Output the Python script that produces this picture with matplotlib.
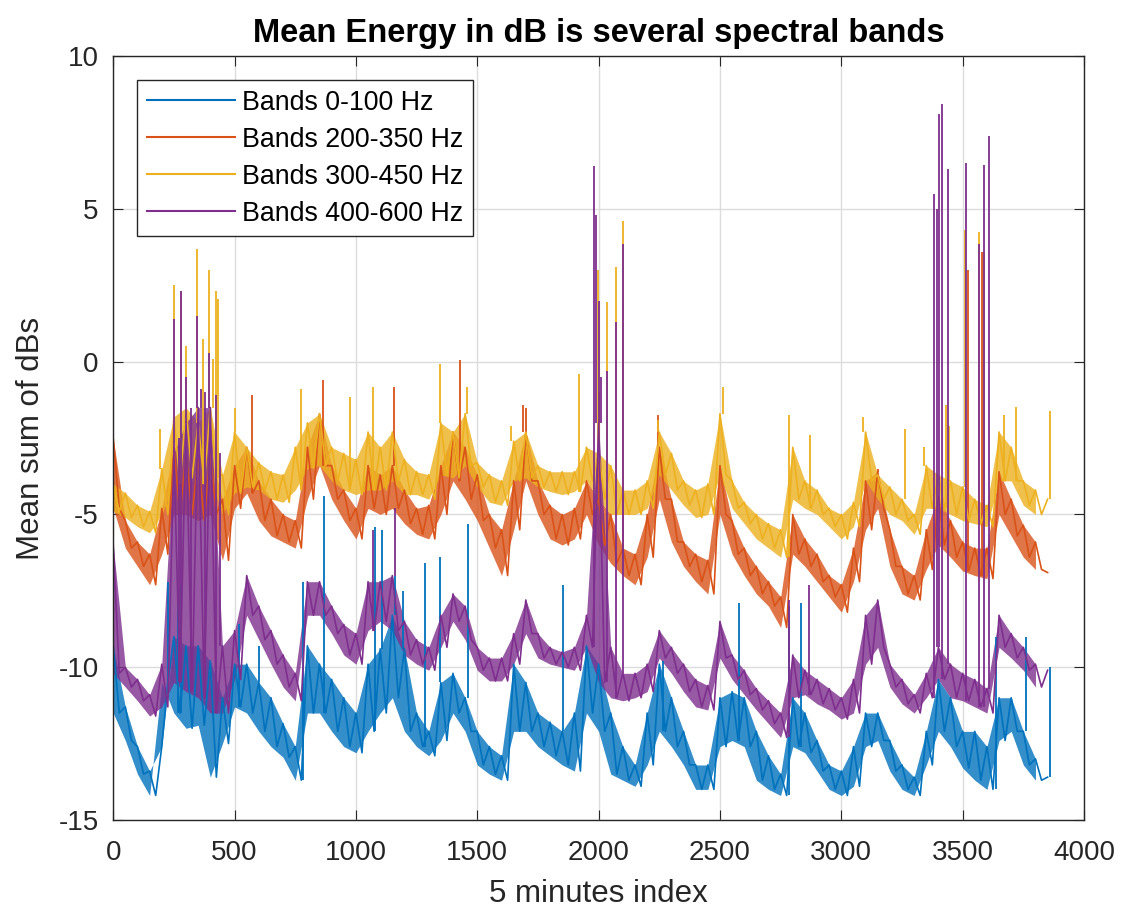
import numpy as np
import matplotlib
matplotlib.use("Agg")
import matplotlib.pyplot as plt

plt.rcParams['font.family'] = ['Liberation Sans', 'DejaVu Sans']
plt.rcParams['axes.unicode_minus'] = False

# values read every 25 samples of the 5 minutes index (alternating upper / lower edge of the trace)
step = 25
band_0_100 = [
    -9.3, -11.5, -11.3, -12.4, -12.6, -13.5, -13.4, -14.2, -12.6, -10.5,
    -9.0, -11.5, -9.3, -12.0, -9.3, -11.9, -9.8, -13.6, -11.0, -12.5,
    -9.9, -11.3, -9.9, -11.5, -10.5, -12.1, -11.0, -12.6, -11.85, -12.95,
    -12.6, -13.7, -9.3, -11.5, -9.9, -11.5, -10.4, -12.1, -11.0, -12.6,
    -11.5, -12.8, -9.9, -12.1, -9.4, -11.5, -8.3, -11.0, -9.4, -12.1,
    -11.5, -12.6, -12.1, -12.9, -10.5, -12.4, -10.2, -11.5, -11.0, -12.1,
    -12.1, -13.2, -12.6, -13.5, -12.9, -13.7, -9.9, -12.1, -10.5, -12.1,
    -11.5, -12.6, -11.8, -12.9, -12.1, -13.2, -11.5, -13.4, -9.3, -11.5,
    -9.9, -12.1, -11.5, -13.5, -12.6, -13.7, -13.2, -13.9, -11.5, -13.2,
    -9.9, -12.1, -11.0, -12.6, -12.1, -13.2, -13.2, -14.0, -13.2, -14.0,
    -11.0, -12.6, -10.8, -12.4, -11.0, -12.6, -12.1, -13.7, -12.9, -14.0,
    -13.5, -14.2, -11.0, -12.6, -11.5, -12.8, -12.4, -13.4, -13.2, -14.0,
    -13.4, -14.2, -12.6, -13.9, -11.5, -12.6, -11.5, -12.4, -12.4, -13.4,
    -13.2, -14.0, -13.6, -14.2, -12.1, -13.2, -10.4, -12.1, -11.0, -12.6,
    -12.1, -13.3, -12.1, -13.7, -12.6, -14.0, -11.0, -12.4, -11.0, -12.1,
    -12.1, -13.2, -13.0, -13.7, -13.6,
]
band_200_350 = [
    -2.5, -4.8, -5.2, -6.1, -5.9, -6.7, -6.3, -7.3, -4.8, -6.3,
    -2.8, -5.0, -3.0, -5.0, -3.2, -5.2, -3.0, -5.0, -4.5, -6.5,
    -3.4, -4.8, -2.8, -4.3, -3.9, -5.2, -4.5, -5.7, -5.0, -5.9,
    -5.2, -6.1, -2.8, -4.5, -1.7, -3.4, -3.4, -4.5, -4.2, -5.2,
    -4.8, -5.8, -3.4, -4.8, -3.7, -5.0, -3.4, -4.8, -4.2, -5.3,
    -4.8, -5.65, -4.7, -5.8, -3.4, -5.0, -2.3, -3.9, -2.8, -4.5,
    -3.7, -5.2, -5.0, -6.1, -5.5, -7.0, -3.9, -5.5, -2.3, -3.9,
    -3.9, -5.0, -4.7, -5.8, -5.0, -6.0, -4.8, -5.8, -3.9, -5.0,
    -4.5, -6.0, -5.0, -6.6, -6.1, -7.0, -6.3, -7.3, -5.0, -6.4,
    -2.8, -4.5, -4.5, -5.9, -5.9, -6.7, -6.3, -7.2, -6.5, -7.6,
    -3.4, -5.0, -5.2, -6.3, -6.1, -7.0, -6.7, -7.6, -7.2, -8.0,
    -7.7, -8.7, -5.0, -6.3, -5.8, -6.7, -6.3, -7.2, -7.0, -7.7,
    -7.3, -8.2, -6.1, -7.2, -3.9, -5.5, -3.6, -4.8, -5.5, -6.7,
    -6.7, -7.6, -7.0, -7.8, -5.5, -6.8, -4.4, -6.0, -5.2, -6.4,
    -5.9, -6.85, -6.1, -7.0, -6.1, -7.1, -3.6, -5.0, -4.5, -5.7,
    -5.35, -6.4, -5.9, -6.8, -6.9,
]
band_300_450 = [
    -4.0, -4.9, -4.3, -5.1, -4.7, -5.4, -4.9, -5.6, -3.5, -5.0,
    -1.8, -4.0, -1.5, -3.8, -2.0, -4.0, -1.5, -3.8, -3.7, -5.0,
    -2.3, -4.3, -2.8, -4.1, -3.3, -4.2, -3.6, -4.5, -3.7, -4.6,
    -2.8, -4.2, -2.0, -3.5, -1.7, -3.4, -2.8, -3.9, -3.0, -4.2,
    -3.2, -4.35, -2.3, -4.2, -2.8, -4.2, -2.3, -3.9, -3.2, -4.35,
    -3.6, -4.35, -3.7, -4.5, -2.0, -3.7, -2.3, -3.8, -1.7, -3.4,
    -3.3, -4.1, -3.7, -4.6, -3.9, -4.7, -2.6, -3.9, -2.3, -3.8,
    -3.4, -4.1, -3.6, -4.25, -3.6, -4.35, -3.6, -4.25, -2.8, -3.9,
    -3.0, -4.5, -3.4, -5.0, -4.2, -5.0, -4.2, -5.0, -3.9, -4.8,
    -2.3, -3.7, -3.0, -4.2, -3.9, -4.7, -4.2, -5.1, -4.0, -5.0,
    -1.7, -3.7, -3.9, -4.8, -4.6, -5.3, -5.0, -5.8, -5.3, -6.1,
    -5.5, -6.4, -2.8, -4.5, -3.9, -4.8, -4.2, -5.0, -4.8, -5.4,
    -5.0, -5.8, -4.6, -5.4, -2.3, -3.9, -3.7, -4.5, -4.1, -5.0,
    -4.5, -5.2, -5.0, -5.65, -3.4, -4.8, -3.7, -4.8, -3.9, -5.0,
    -4.1, -5.2, -4.5, -5.3, -4.7, -5.4, -2.3, -3.9, -2.8, -3.9,
    -3.9, -4.7, -4.2, -5.0, -4.5,
]
band_400_600 = [
    -6.0, -10.2, -10.0, -10.65, -10.4, -11.1, -10.9, -11.6, -9.9, -11.3,
    -3.0, -10.5, -2.0, -10.8, -1.5, -11.0, -1.5, -11.5, -9.3, -11.5,
    -8.8, -10.4, -7.0, -8.3, -8.0, -9.1, -8.8, -9.9, -9.6, -10.65,
    -10.2, -11.1, -7.2, -8.3, -7.2, -8.3, -8.0, -8.9, -8.6, -9.6,
    -8.9, -9.9, -7.2, -8.8, -7.2, -8.5, -7.0, -8.8, -8.5, -9.6,
    -9.1, -9.9, -9.35, -10.1, -8.3, -9.35, -7.6, -8.5, -8.0, -9.1,
    -9.35, -10.1, -9.7, -10.45, -9.7, -10.45, -8.9, -9.9, -7.8, -8.9,
    -8.9, -9.7, -9.35, -9.9, -9.5, -10.0, -9.35, -10.1, -8.3, -9.35,
    -2.0, -10.5, -9.35, -11.0, -10.2, -11.1, -10.2, -11.0, -9.9, -10.8,
    -8.8, -9.7, -9.35, -10.2, -9.9, -10.8, -10.4, -11.3, -10.6, -11.4,
    -8.5, -9.7, -9.6, -10.4, -10.1, -10.9, -10.7, -11.4, -11.1, -11.85,
    -11.5, -12.3, -9.6, -11.0, -10.1, -10.9, -10.4, -11.2, -10.7, -11.4,
    -11.0, -11.7, -10.4, -11.5, -8.3, -9.9, -7.8, -9.35, -9.9, -10.65,
    -10.4, -11.2, -10.9, -11.5, -10.2, -11.0, -9.35, -10.4, -9.9, -11.0,
    -10.2, -11.1, -10.4, -11.3, -10.7, -11.5, -8.3, -9.35, -8.9, -9.7,
    -9.35, -10.1, -9.9, -10.65, -10.1,
]

# narrow peaks (index, peak value)
peaks_0_100_x = [225, 265, 280, 520, 600, 780, 870, 1077, 1109, 1160, 1195, 1286, 1345,
                 1461, 1853, 2265, 2580, 2786, 2834, 3636, 3760, 3859]
peaks_0_100_y = [-7.2, -7.5, -7.3, -8.6, -9.3, -7.2, -4.4, -5.4, -5.5, -7.0, -7.5, -6.6, -6.4,
                 -5.3, -7.3, -9.8, -7.9, -8.0, -7.9, -9.0, -9.0, -10.0]
peaks_200_350_x = [570, 865, 1157, 1427, 1688, 1700, 2000, 2100, 2244, 3150, 3520, 3580]
peaks_200_350_y = [-1.1, -0.6, -0.83, 0.07, -1.4, -1.5, -1.0, 2.0, -1.75, -3.5, 3.0, 3.6]
peaks_300_450_x = [192, 251, 281, 300, 347, 371, 394, 410, 425, 432, 501, 775, 975, 1070,
                   1345, 1457, 1640, 1921, 1997, 2034, 2070, 2100, 2244, 2511, 2786, 2871,
                   3088, 3262, 3339, 3431, 3444, 3510, 3568, 3586, 3671, 3719, 3859]
peaks_300_450_y = [-2.2, 2.5, 2.3, 0.5, 3.7, 0.75, 3.0, 0.1, 2.3, 2.05, -1.5, -0.9, -1.15, -0.83,
                   -0.07, -0.83, -2.1, -0.4, 3.0, 1.95, 3.1, 4.6, -1.9, -0.83, -1.75, -2.4,
                   -1.8, -2.2, -2.8, -1.4, -2.1, 4.3, 4.25, 3.6, -1.75, -1.48, -1.6]
peaks_400_600_x = [251, 270, 281, 300, 320, 347, 362, 380, 394, 410, 425, 440, 1070, 1160,
                   1983, 1990, 2000, 2010, 2034, 2070, 2100, 2786, 2868, 3383, 3396, 3403,
                   3414, 3438, 3513, 3568, 3586, 3608]
peaks_400_600_y = [1.4, -2.5, 2.3, -0.5, -1.5, 1.5, -0.9, -1.0, 0.3, -1.5, -1.1, -3.0, -5.5, -4.8,
                   6.4, 4.8, 2.0, -0.5, -0.3, 1.3, 3.85, -7.8, -7.3, 5.5, 5.0, 8.1,
                   8.45, 6.3, 6.5, 3.85, 6.45, 7.4]

labels = ['Bands 0-100 Hz', 'Bands 200-350 Hz', 'Bands 300-450 Hz', 'Bands 400-600 Hz']
colors = ['#0072BD', '#D95319', '#EDB120', '#7E2F8E']
series = [band_0_100, band_200_350, band_300_450, band_400_600]
peaks = [(peaks_0_100_x, peaks_0_100_y), (peaks_200_350_x, peaks_200_350_y),
         (peaks_300_450_x, peaks_300_450_y), (peaks_400_600_x, peaks_400_600_y)]

fig = plt.figure(figsize=(11.21, 9.08), dpi=100)
ax = fig.add_axes([0.101, 0.097, 0.866, 0.841])

for vals, (px, py), col, lab in zip(series, peaks, colors, labels):
    vals = np.asarray(vals)
    x = np.arange(len(vals)) * step
    # the dense trace reads as a band between its upper and lower edges
    hi, lo = vals[0::2], vals[1::2]
    n = len(lo)
    ax.fill_between(x[0::2][:n], hi[:n], lo, color=col, alpha=0.8, lw=0)
    ax.plot(x, vals, color=col, lw=1.2, label=lab)
    idx = np.clip(np.round(np.asarray(px) / step).astype(int), 0, len(vals) - 1)
    ax.vlines(px, vals[idx], py, color=col, lw=1.3)

ax.set_xlim(0, 4000)
ax.set_ylim(-15, 10)
ax.set_xticks(np.arange(0, 4001, 500))
ax.set_yticks(np.arange(-15, 11, 5))
ax.grid(True, color='#dcdcdc', lw=1)
ax.set_axisbelow(True)
ax.tick_params(direction='in', length=7, top=True, right=True, labelsize=20,
               colors='#262626')
ax.tick_params(axis='x', pad=14.5)
ax.tick_params(axis='y', pad=10.5)
for s in ax.spines.values():
    s.set_color('#262626')
    s.set_linewidth(1)

ax.set_title('Mean Energy in dB is several spectral bands', fontsize=23.5,
             fontweight='bold', pad=10)
ax.set_xlabel('5 minutes index', fontsize=22.5, color='#262626', labelpad=9)
ax.set_ylabel('Mean sum of dBs', fontsize=22.5, color='#262626', labelpad=9)

leg = ax.legend(loc='upper left', bbox_to_anchor=(0.0247, 0.969), borderaxespad=0,
                fontsize=19.3, handlelength=3.3, handletextpad=0.25, labelspacing=0.41,
                borderpad=0.36, fancybox=False, framealpha=1, edgecolor='#262626')
leg.get_frame().set_linewidth(1)
for line in leg.get_lines():
    line.set_linewidth(1.5)

fig.savefig('out.png', dpi=100)
